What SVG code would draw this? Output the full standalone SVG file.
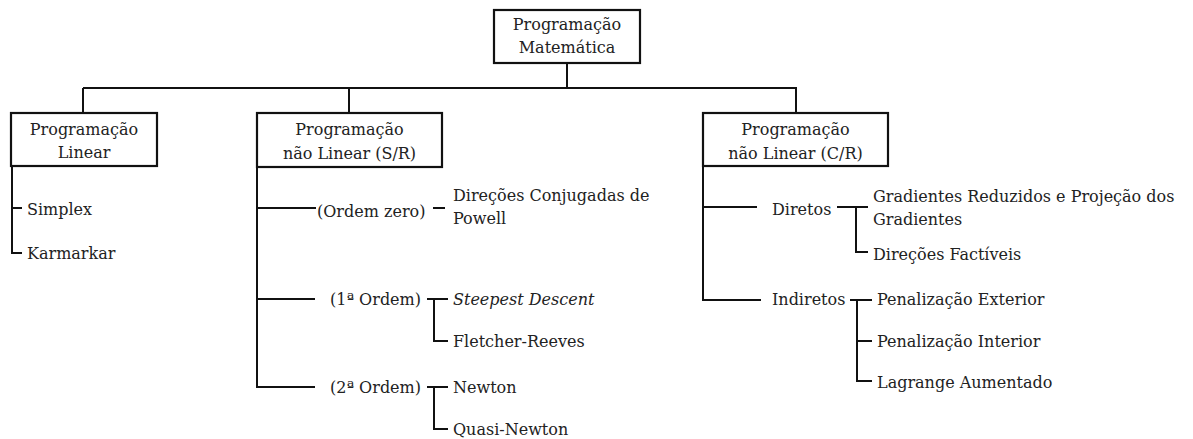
<svg xmlns="http://www.w3.org/2000/svg" width="1193" height="439" viewBox="0 0 1193 439">
  <style>
    text { font-family: "DejaVu Serif", "Liberation Serif", serif; font-size: 16px; fill: #222; }
    .c { text-anchor: middle; }
    .box { fill: #fff; stroke: #111; stroke-width: 2.2; }
    .ln { fill: none; stroke: #111; stroke-width: 2; }
    .it { font-style: italic; }
  </style>
  <rect width="1193" height="439" fill="#fff"/>

  <!-- connectors -->
  <g id="connectors" class="ln">
    <path d="M567 63 V88 M83 88 H797 M83 88 V113 M349 88 V113 M796 88 V113"/>
    <!-- linear branch -->
    <path d="M12 166 V253 H22 M12 208 H22"/>
    <!-- nonlinear unconstrained -->
    <path d="M257 167 V387 H315 M257 208 H316 M257 299 H315"/>
    <path d="M433 208 H445"/>
    <path d="M427 299 H448 M434 299 V341 H448"/>
    <path d="M427 387 H448 M434 387 V429 H448"/>
    <!-- nonlinear constrained -->
    <path d="M703 166 V300 H761 M703 207 H757"/>
    <path d="M837 207 H868 M856 207 V252 H868"/>
    <path d="M850 300 H872 M857 300 V381 H872 M857 341 H872"/>
  </g>

  <g id="root">
    <rect class="box" x="494" y="10" width="146" height="53"/>
    <text class="c" x="567" y="30">Programação</text>
    <text class="c" x="567" y="53">Matemática</text>
  </g>

  <g id="linear">
    <rect class="box" x="11" y="113" width="146" height="53"/>
    <text class="c" x="84" y="135">Programação</text>
    <text class="c" x="84" y="158">Linear</text>
  </g>
  <g id="simplex"><text x="27" y="215">Simplex</text></g>
  <g id="karmarkar"><text x="27" y="259">Karmarkar</text></g>

  <g id="nl-sr">
    <rect class="box" x="257" y="113" width="185" height="54"/>
    <text class="c" x="349.5" y="135">Programação</text>
    <text class="c" x="349.5" y="159">não Linear (S/R)</text>
  </g>
  <g id="ordem-zero"><text x="317" y="217">(Ordem zero)</text></g>
  <g id="powell">
    <text x="453" y="201">Direções Conjugadas de</text>
    <text x="453" y="224">Powell</text>
  </g>
  <g id="ordem-1"><text x="330" y="305">(1ª Ordem)</text></g>
  <g id="steepest"><text class="it" x="453" y="305">Steepest Descent</text></g>
  <g id="fletcher"><text x="453" y="347">Fletcher-Reeves</text></g>
  <g id="ordem-2"><text x="330" y="393">(2ª Ordem)</text></g>
  <g id="newton"><text x="453" y="393">Newton</text></g>
  <g id="quasi-newton"><text x="453" y="435">Quasi-Newton</text></g>

  <g id="nl-cr">
    <rect class="box" x="703" y="113" width="185" height="53"/>
    <text class="c" x="795.5" y="135">Programação</text>
    <text class="c" x="795.5" y="159">não Linear (C/R)</text>
  </g>
  <g id="diretos"><text x="772" y="215">Diretos</text></g>
  <g id="gradientes">
    <text x="873" y="202">Gradientes Reduzidos e Projeção dos</text>
    <text x="873" y="225">Gradientes</text>
  </g>
  <g id="factiveis"><text x="873" y="260">Direções Factíveis</text></g>
  <g id="indiretos"><text x="772" y="305">Indiretos</text></g>
  <g id="exterior"><text x="877" y="305">Penalização Exterior</text></g>
  <g id="interior"><text x="877" y="347">Penalização Interior</text></g>
  <g id="lagrange"><text x="877" y="388">Lagrange Aumentado</text></g>
</svg>
